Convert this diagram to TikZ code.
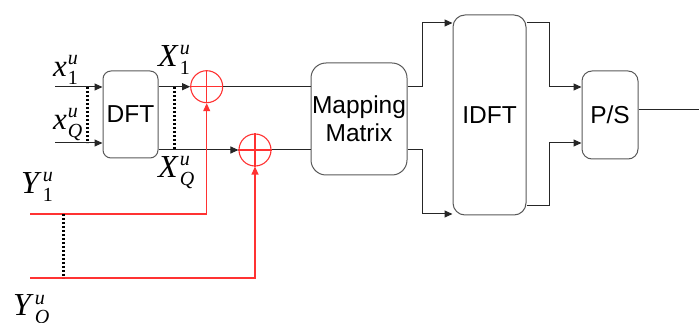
\documentclass[tikz,border=0pt]{standalone}
\usepackage{fontspec}
\setmainfont{Liberation Sans}
\newfontfamily\serifl{Liberation Serif}
\usetikzlibrary{arrows.meta}
\newcommand\vlab[4]{{\serifl\fontsize{#4}{#4}\selectfont\textit{#1}\kern1pt\rlap{\raisebox{12pt}{\fontsize{20}{20}\selectfont\textit{#2}}}\raisebox{-8pt}{\fontsize{20}{20}\selectfont #3}}}
\begin{document}
\begin{tikzpicture}[x=1pt,y=-1pt,
  blk/.style={draw=black!65,line width=1pt,inner sep=0pt,align=center,font=\fontsize{24.5}{28}\selectfont},
  ln/.style={draw=black!85,line width=1pt},
  arr/.style={ln,-{Triangle[length=8pt,width=7pt]}},
  rl/.style={draw={rgb,255:red,255;green,50;blue,50},line width=1.1pt},
  rarr/.style={rl,-{Triangle[length=8pt,width=7pt]}},
  dts/.style={draw=black,line width=3pt,dash pattern=on 2pt off 2pt},
  sum/.style={circle,rl,minimum size=32pt,inner sep=0pt},
  lab/.style={inner sep=0pt,anchor=base west}]
\useasboundingbox (0,0) rectangle (699,323);
% blocks
\node[blk,rounded corners=8pt,minimum width=55pt,minimum height=87pt] (dft) at (130.5,114.5) {DFT};
\node[blk,rounded corners=15pt,minimum width=96pt,minimum height=112pt] (map) at (359,119) {Mapping\\Matrix};
\node[blk,rounded corners=12pt,minimum width=73pt,minimum height=200pt] (idft) at (489.5,115) {IDFT};
\node[blk,rounded corners=10pt,minimum width=56pt,minimum height=88pt] (ps) at (610,115) {P/S};
% adders
\node[sum] (c1) at (206.7,86.7) {};
\node[sum] (c2) at (255,150) {};
\draw[rl] (c1.north) -- (c1.south) (c1.west) -- (c1.east);
\draw[rl] (c2.north) -- (c2.south) (c2.west) -- (c2.east);
% coordinates
\coordinate (a1) at (55,87);
\coordinate (aQ) at (55,143);
\coordinate (d1) at (87,87);
\coordinate (d2) at (87,143);
\coordinate (e1) at (174,87);
\coordinate (e2) at (174,150);
\coordinate (m1) at (422,23);
\coordinate (m2) at (422,214);
\coordinate (q1) at (549,23);
\coordinate (q2) at (549,206);
\coordinate (p1) at (549,87);
\coordinate (p2) at (549,143);
\coordinate (o) at (699,110);
\coordinate (r1) at (30,214);
\coordinate (r2) at (30,278);
\coordinate (f1) at (63,214);
\coordinate (f2) at (63,278);
% inputs
\draw[arr] (a1) -- (a1 -| dft.west);
\draw[arr] (aQ) -- (aQ -| dft.west);
\draw[dts] (d1) -- (d2);
% DFT outputs
\draw[arr] (dft.east |- c1) -- (c1.west);
\draw[arr] (dft.east |- c2) -- (c2.west);
\draw[dts] (e1) -- (e2);
% to mapping
\draw[ln] (c1.east) -- (map.west |- c1);
\draw[ln] (c2.east) -- (map.west |- c2);
% mapping to IDFT
\draw[arr] (map.east |- c1) -| (m1) -- (m1 -| idft.west);
\draw[arr] (map.east |- c2) -| (m2) -- (m2 -| idft.west);
% IDFT to P/S
\draw[arr] (q1 -| idft.east) -- (q1) -- (p1) -- (p1 -| ps.west);
\draw[arr] (q2 -| idft.east) -- (q2) -- (p2) -- (p2 -| ps.west);
\draw[ln] (ps.east |- o) -- (o);
% red inputs
\draw[rarr] (r1) -| (c1.south);
\draw[rarr] (r2) -| (c2.south);
\draw[dts] (f1) -- (f2);
% labels
\node[lab] (lx1) at (53,77) {\vlab{x}{u}{1}{31}};
\node[lab] (lxQ) at (53,130) {\vlab{x}{u}{\textit{Q}}{31}};
\node[lab] (lX1) at (158,67) {\vlab{X}{u}{1}{32}};
\node[lab] (lXQ) at (158,178) {\vlab{X}{u}{\textit{Q}}{32}};
\node[lab] (lY1) at (21,194) {\vlab{Y}{u}{1}{32}};
\node[lab] (lYQ) at (13,316) {\vlab{Y}{u}{\textit{Q}}{32}};
\end{tikzpicture}
\end{document}
